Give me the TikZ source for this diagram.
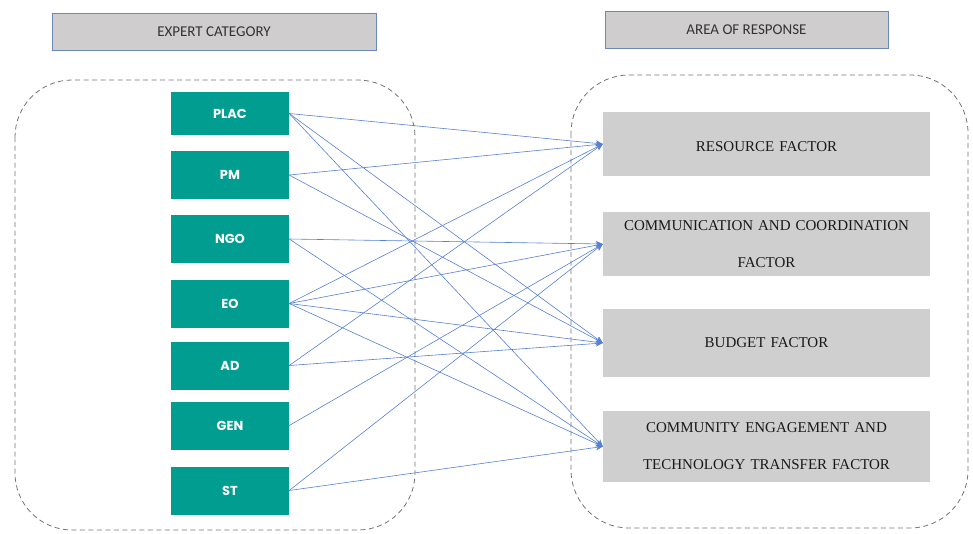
\documentclass[tikz,border=0pt]{standalone}
\usepackage{fontspec}
\usepackage{xcolor}
\usetikzlibrary{arrows.meta}

\newfontfamily\headfont{Carlito}
\newfontfamily\catfont{Poppins}
\newfontfamily\factfont{Liberation Serif}[WordSpace=1.8]

\definecolor{expertteal}{RGB}{0,157,144}
\definecolor{factorgray}{RGB}{208,207,207}
\definecolor{headgray}{RGB}{207,205,206}
\definecolor{headedge}{RGB}{106,136,190}
\definecolor{linkblue}{RGB}{86,128,212}
\definecolor{dashgray}{RGB}{115,115,115}

\begin{document}
\begin{tikzpicture}[x=1pt, y=-1pt,
  header/.style={draw=headedge, line width=0.8pt, fill=headgray,
    minimum height=37pt, inner sep=0pt,
    font=\headfont\fontsize{15}{17}\selectfont, text=black!80},
  region/.style={draw=dashgray, line width=0.8pt, dash pattern=on 5pt off 3.5pt},
  expert/.style={fill=expertteal, minimum width=118pt, minimum height=48pt,
    inner sep=0pt, text=white, font=\catfont\bfseries\fontsize{13}{15}\selectfont},
  factor/.style={fill=factorgray, minimum width=327pt, inner sep=0pt,
    text width=322pt, align=center, text=black!90,
    font=\factfont\fontsize{15}{37}\selectfont},
  link/.style={draw=linkblue, line width=0.6pt, -{Stealth[length=7pt, width=6pt]}}]
  \useasboundingbox (0,0) rectangle (973,533);

  % Headers
  \node[header, minimum width=324pt] (exphead) at (214, 31.5) {EXPERT CATEGORY};
  \node[header, minimum width=283pt] (areahead) at (746.5, 30) {AREA OF RESPONSE};

  % Dashed groups
  \draw[region, rounded corners=57pt] (15, 80) rectangle (415, 530);
  \draw[region, rounded corners=58pt] (571, 75) rectangle (968, 528);

  % Expert categories
  \node[expert, minimum height=43pt] (plac) at (230, 113.5) {PLAC};
  \node[expert] (pm)  at (230, 175)   {PM};
  \node[expert] (ngo) at (230, 239)   {NGO};
  \node[expert] (eo)  at (230, 303.5) {EO};
  \node[expert] (ad)  at (230, 365.5) {AD};
  \node[expert] (gen) at (230, 425.5) {GEN};
  \node[expert] (st)  at (230, 490.5) {ST};

  % Areas of response
  \node[factor, minimum height=64pt, text height=16pt] (res) at (766.5, 144) {RESOURCE FACTOR};
  \node[factor, minimum height=64pt] (comm) at (766.5, 244)   {COMMUNICATION AND COORDINATION\\FACTOR};
  \node[factor, minimum height=68pt] (bud)  at (766.5, 343)   {BUDGET FACTOR};
  \node[factor, minimum height=71pt] (cet)  at (766.5, 446.5) {COMMUNITY ENGAGEMENT AND\\TECHNOLOGY TRANSFER FACTOR};

  % Links
  \draw[link] (plac.east) -- (res.west);
  \draw[link] (plac.east) -- (bud.west);
  \draw[link] (plac.east) -- (cet.west);
  \draw[link] (pm.east) -- (res.west);
  \draw[link] (pm.east) -- (bud.west);
  \draw[link] (ngo.east) -- (comm.west);
  \draw[link] (ngo.east) -- (cet.west);
  \draw[link] (eo.east) -- (res.west);
  \draw[link] (eo.east) -- (comm.west);
  \draw[link] (eo.east) -- (bud.west);
  \draw[link] (eo.east) -- (cet.west);
  \draw[link] (ad.east) -- (res.west);
  \draw[link] (ad.east) -- (bud.west);
  \draw[link] (gen.east) -- (comm.west);
  \draw[link] (st.east) -- (comm.west);
  \draw[link] (st.east) -- (cet.west);
\end{tikzpicture}
\end{document}
